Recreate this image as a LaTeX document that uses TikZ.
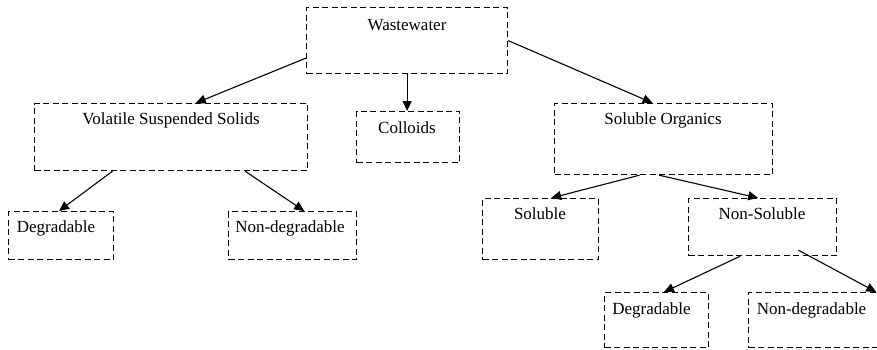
\documentclass[tikz,border=0pt]{standalone}
\usepackage{fontspec}
\setmainfont{Liberation Serif}
\usetikzlibrary{arrows.meta,calc}
\begin{document}
\begin{tikzpicture}[x=1pt,y=1pt,
  box/.style={draw, line width=1.2pt, dash pattern=on 6pt off 3.5pt, inner sep=0pt, anchor=north west},
  lbl/.style={anchor=base, inner sep=0pt, font=\fontsize{17}{20}\selectfont},
  conn/.style={line width=1.1pt, -{Triangle[length=10pt,width=9pt]}}]
\useasboundingbox (0,0) rectangle (877,-349);
% boxes
\node[box, minimum width=201pt, minimum height=66pt] (ww)  at (306,-7)   {};
\node[box, minimum width=273pt, minimum height=67pt] (vss) at (34,-103)  {};
\node[box, minimum width=103pt, minimum height=51pt] (col) at (356,-111) {};
\node[box, minimum width=218pt, minimum height=71pt] (so)  at (554,-103) {};
\node[box, minimum width=105pt, minimum height=48pt] (dl)  at (8,-211)   {};
\node[box, minimum width=128pt, minimum height=48pt] (ndl) at (228,-211) {};
\node[box, minimum width=116pt, minimum height=61pt] (sol) at (482,-198) {};
\node[box, minimum width=148pt, minimum height=57pt] (ns)  at (688,-198) {};
\node[box, minimum width=104pt, minimum height=55pt] (dr)  at (604,-292) {};
\node[box, minimum width=131pt, minimum height=55pt] (ndr) at (748,-292) {};
% labels
\node[lbl] (wwt)  at (407,-30)  {Wastewater};
\node[lbl] (vsst) at (171,-124) {Volatile Suspended Solids};
\node[lbl] (colt) at (407,-133) {Colloids};
\node[lbl] (sot)  at (663,-124) {Soluble Organics};
\node[lbl] (dlt)  at (56,-232)  {Degradable};
\node[lbl] (ndlt) at (290,-232) {Non-degradable};
\node[lbl] (solt) at (540,-219) {Soluble};
\node[lbl] (nst)  at (762,-219) {Non-Soluble};
\node[lbl] (drt)  at (651.5,-314) {Degradable};
\node[lbl] (ndrt) at (811.5,-314) {Non-degradable};
% connectors
\draw[conn] ($(ww.north west)!0.76!(ww.south west)$) -- ($(vss.north west)!0.59!(vss.north east)$);
\draw[conn] (ww.south) -- (ww.south |- col.north);
\draw[conn] (ww.east) -- ($(so.north west)!0.45!(so.north east)$);
\draw[conn] ($(vss.south west)!0.286!(vss.south east)$) -- ($(dl.north west)!0.48!(dl.north east)$);
\draw[conn] ($(vss.south west)!0.77!(vss.south east)$) -- ($(ndl.north west)!0.59!(ndl.north east)$);
\draw[conn] ($(so.south west)!0.39!(so.south east)$) -- ($(sol.north west)!0.59!(sol.north east)$);
\draw[conn] ($(so.south west)!0.48!(so.south east)$) -- ($(ns.north west)!0.47!(ns.north east)$);
\draw[conn] ($(ns.south west)!0.35!(ns.south east)$) -- ($(dr.north west)!0.57!(dr.north east)$);
\draw[conn] ($(ns.south west)!0.74!(ns.south east)+(0,6)$) -- ($(ndr.north west)!0.97!(ndr.north east)$);
\end{tikzpicture}
\end{document}
